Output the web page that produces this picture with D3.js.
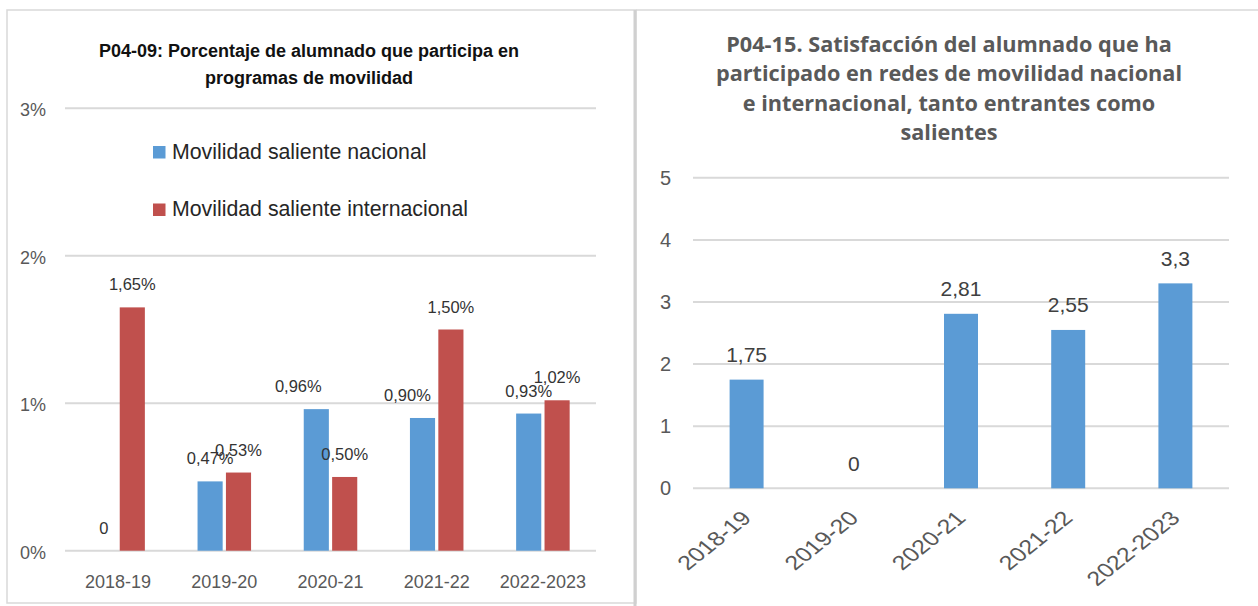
<!DOCTYPE html>
<html>
<head>
<meta charset="utf-8">
<script src="https://cdn.jsdelivr.net/npm/d3@7"></script>
<style>
  html, body { margin: 0; padding: 0; background: #fff; }
  svg { display: block; }
  text { font-family: "Liberation Sans", Arial, sans-serif; }
</style>
</head>
<body>
<svg id="chart" width="1258" height="606"></svg>
<script>
// ---------- data ----------
const categories = ["2018-19", "2019-20", "2020-21", "2021-22", "2022-2023"];
const seriesNames = ["Movilidad saliente nacional", "Movilidad saliente internacional"];
const nacional = [0, 0.47, 0.96, 0.90, 0.93];
const internacional = [1.65, 0.53, 0.50, 1.50, 1.02];
const pctTicks = [0, 1, 2, 3];
const satisfaccion = [1.75, 0, 2.81, 2.55, 3.3];
const satTicks = [0, 1, 2, 3, 4, 5];
const titleLeft = ["P04-09: Porcentaje de alumnado que participa en", "programas de movilidad"];
const titleRight = ["P04-15. Satisfacción del alumnado que ha", "participado en redes de movilidad nacional",
                    "e internacional, tanto entrantes como", "salientes"];

const BLUE = "#5B9BD5", RED = "#C0504D", GRID = "#d9d9d9", AXIS_TXT = "#595959";

const svg = d3.select("#chart");

// ---------- frames ----------
svg.append("rect").attr("x", 7).attr("y", 10).attr("width", 629).attr("height", 593)
  .attr("fill", "none").attr("stroke", "#d9d9d9").attr("stroke-width", 1.5);
svg.append("line").attr("x1", 636).attr("x2", 1258).attr("y1", 10).attr("y2", 10)
  .attr("stroke", "#d9d9d9").attr("stroke-width", 1.5);
svg.append("line").attr("x1", 635).attr("x2", 635).attr("y1", 10).attr("y2", 606)
  .attr("stroke", "#d0d0d0").attr("stroke-width", 3);

// ---------- LEFT CHART ----------
const L = svg.append("g");
const xL = d3.scaleBand().domain(categories).range([65, 596]).padding(0);
const yL = d3.scaleLinear().domain([0, 3]).range([550.7, 108.3]);
const step = xL.step();
const xSub = d3.scaleBand().domain(seriesNames)
  .range([-step * 0.252, step * 0.252]).paddingInner(0.115);

// grid
L.append("g").selectAll("line").data(pctTicks).join("line")
  .attr("x1", 65).attr("x2", 596)
  .attr("y1", d => yL(d)).attr("y2", d => yL(d))
  .attr("stroke", GRID).attr("stroke-width", 2);

// y labels
L.append("g").selectAll("text").data(pctTicks).join("text")
  .attr("x", 46).attr("y", d => yL(d) + 8)
  .attr("text-anchor", "end").attr("font-size", 18).attr("fill", AXIS_TXT)
  .text(d => d + "%");

// x labels
L.append("g").selectAll("text").data(categories).join("text")
  .attr("x", d => xL(d) + step / 2).attr("y", 588)
  .attr("text-anchor", "middle").attr("font-size", 18).attr("fill", AXIS_TXT)
  .text(d => d);

// bars
const rows = categories.map((c, i) => ({ cat: c, vals: [nacional[i], internacional[i]] }));
const colors = [BLUE, RED];
const fmtPct = v => v === 0 ? "0" : v.toFixed(2).replace(".", ",") + "%";
// manual label nudges as in the original (category index, series index) -> dx
const nudge = { "2-0": -18, "3-0": -15 };

rows.forEach((r, i) => {
  const cx = xL(r.cat) + step / 2;
  r.vals.forEach((v, s) => {
    const bx = cx + xSub(seriesNames[s]);
    L.append("rect")
      .attr("x", bx).attr("width", xSub.bandwidth())
      .attr("y", yL(v)).attr("height", yL(0) - yL(v))
      .attr("fill", colors[s]);
    L.append("text")
      .attr("x", bx + xSub.bandwidth() / 2 + (nudge[i + "-" + s] || 0))
      .attr("y", yL(v) - 17)
      .attr("text-anchor", "middle").attr("font-size", 16.5).attr("fill", "#333")
      .text(fmtPct(v));
  });
});

// title
L.append("text").attr("x", 309).attr("y", 57).attr("text-anchor", "middle")
  .attr("font-size", 18).attr("font-weight", "bold").attr("fill", "#111")
  .selectAll("tspan").data(titleLeft).join("tspan")
  .attr("x", 309).attr("dy", (d, i) => i === 0 ? 0 : 27).text(d => d);

// legend
seriesNames.forEach((n, i) => {
  const y0 = 158.5 + i * 57.5;
  L.append("rect").attr("x", 153).attr("y", y0 - 12.5).attr("width", 12.5).attr("height", 12.5)
    .attr("fill", colors[i]);
  L.append("text").attr("x", 172).attr("y", y0).attr("font-size", 21.3).attr("fill", "#262626").text(n);
});

// ---------- RIGHT CHART ----------
const R = svg.append("g");
const xR = d3.scaleBand().domain(categories).range([693, 1229])
  .paddingInner(0.683).paddingOuter(0.683 / 2);
const yR = d3.scaleLinear().domain([0, 5]).range([488.3, 177.8]);

R.append("g").selectAll("line").data(satTicks).join("line")
  .attr("x1", 693).attr("x2", 1229)
  .attr("y1", d => yR(d)).attr("y2", d => yR(d))
  .attr("stroke", GRID).attr("stroke-width", 2);

R.append("g").selectAll("text").data(satTicks).join("text")
  .attr("x", 671).attr("y", d => yR(d) + 7)
  .attr("text-anchor", "end").attr("font-size", 20).attr("fill", AXIS_TXT)
  .text(d => d);

R.append("g").selectAll("rect").data(satisfaccion).join("rect")
  .attr("x", (d, i) => xR(categories[i]))
  .attr("width", xR.bandwidth())
  .attr("y", d => yR(d)).attr("height", d => yR(0) - yR(d))
  .attr("fill", BLUE);

R.append("g").selectAll("text").data(satisfaccion).join("text")
  .attr("x", (d, i) => xR(categories[i]) + xR.bandwidth() / 2)
  .attr("y", d => yR(d) - 17.5)
  .attr("text-anchor", "middle").attr("font-size", 21).attr("fill", "#404040")
  .text(d => String(d).replace(".", ","));

R.append("g").selectAll("text").data(categories).join("text")
  .attr("transform", d => {
    const cx = xR(d) + xR.bandwidth() / 2;
    return `translate(${cx + 6},${yR(0) + 31}) scale(1.25,1) rotate(-45)`;
  })
  .attr("text-anchor", "end").attr("font-size", 20).attr("fill", AXIS_TXT)
  .text(d => d);

R.append("text").attr("x", 949).attr("y", 52).attr("text-anchor", "middle")
  .attr("font-size", 21.7).attr("font-weight", "bold").attr("fill", AXIS_TXT)
  .style("font-family", "'Open Sans', sans-serif")
  .selectAll("tspan").data(titleRight).join("tspan")
  .attr("x", 949).attr("dy", (d, i) => i === 0 ? 0 : 29.3).text(d => d);
</script>
</body>
</html>
